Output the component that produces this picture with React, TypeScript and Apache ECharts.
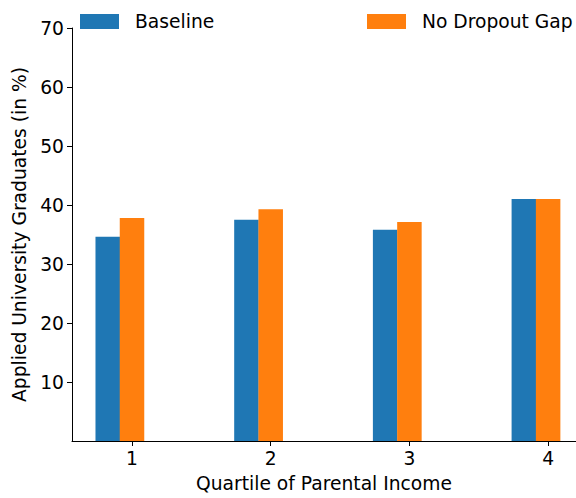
import React, { useEffect, useRef } from 'react';
import * as echarts from 'echarts';

const quartiles = [1, 2, 3, 4];
const baseline = [34.6, 37.5, 35.8, 41.0];
const noDropoutGap = [37.8, 39.3, 37.1, 41.0];
const yTicks = [10, 20, 30, 40, 50, 60, 70];

const FONT = 'DejaVu Sans';
const FS = 18.7;
const BAR_W = 0.175; // bar width in x units

const App: React.FC = () => {
	const chartContainer = useRef<HTMLDivElement | null>(null);

	useEffect(() => {
		if (!chartContainer.current) return;
		const chart = echarts.init(chartContainer.current, undefined, { renderer: 'svg' });

		const axisLine = { show: true, lineStyle: { color: '#000', width: 1 } };
		const tick = { show: true, length: 5, lineStyle: { color: '#000', width: 1 } };

		const legendText = { fontFamily: FONT, fontSize: FS, color: '#000', padding: [0, 0, 0, 11] };

		const option: any = {
			animation: false,
			textStyle: { fontFamily: FONT },
			legend: [
				{
					left: 75,
					top: 7,
					itemWidth: 39,
					itemHeight: 15,
					icon: 'rect',
					data: ['Baseline'],
					textStyle: legendText,
				},
				{
					left: 362,
					top: 7,
					itemWidth: 39,
					itemHeight: 15,
					icon: 'rect',
					data: ['No Dropout Gap'],
					textStyle: legendText,
				},
			],
			grid: { left: 72, right: 0, top: 28, bottom: 57 },
			xAxis: {
				type: 'value',
				min: 0.5674,
				max: 4.201,
				splitLine: { show: false },
				axisLine,
				axisTick: { ...tick, customValues: quartiles },
				axisLabel: { customValues: quartiles, fontFamily: FONT, fontSize: FS, color: '#000', margin: 8 },
				name: 'Quartile of Parental Income',
				nameLocation: 'middle',
				nameGap: 33,
				nameTextStyle: { fontFamily: FONT, fontSize: FS, color: '#000' },
			},
			yAxis: {
				type: 'value',
				min: 0,
				max: 70,
				splitLine: { show: false },
				axisLine,
				axisTick: { ...tick, customValues: yTicks },
				axisLabel: { customValues: yTicks, fontFamily: FONT, fontSize: FS, color: '#000', margin: 8 },
				name: 'Applied University Graduates (in %)',
				nameLocation: 'middle',
				nameGap: 40,
				nameTextStyle: { fontFamily: FONT, fontSize: FS, color: '#000' },
			},
			series: [
				{
					name: 'Baseline',
					type: 'bar',
					barWidth: 24.5,
					barGap: '-100%',
					itemStyle: { color: '#1f77b4' },
					data: quartiles.map((q, i) => [q - BAR_W, baseline[i]]),
				},
				{
					name: 'No Dropout Gap',
					type: 'bar',
					barWidth: 24.5,
					barGap: '-100%',
					itemStyle: { color: '#ff7f0e' },
					data: quartiles.map((q, i) => [q, noDropoutGap[i]]),
				},
			],
		};

		chart.setOption(option);

		return () => {
			chart.dispose();
		};
	}, []);

	return (
		<div
			ref={chartContainer}
			style={{ position: 'fixed', left: 0, top: 0, width: '576px', height: '498px', background: '#fff' }}
		/>
	);
};

export default App;
